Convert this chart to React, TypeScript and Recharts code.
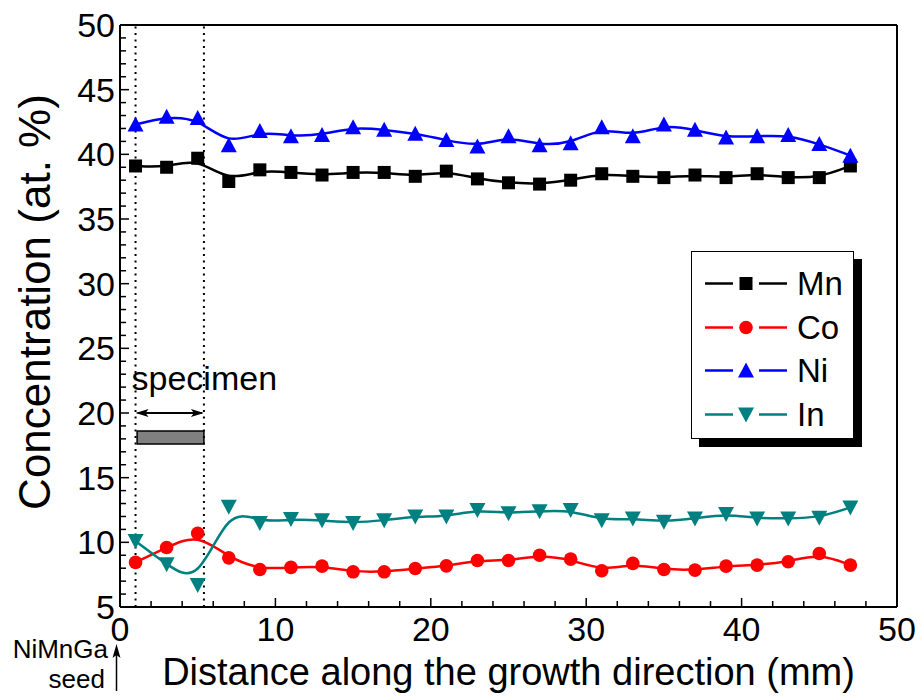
import React from 'react';
import {
  LineChart,
  Line,
  XAxis,
  YAxis,
  Legend,
  Label,
  ReferenceLine,
  ReferenceArea,
} from 'recharts';

// Distance along the growth direction (mm)
const distance = [1, 3, 5, 7, 9, 11, 13, 15, 17, 19, 21, 23, 25, 27, 29, 31, 33, 35, 37, 39, 41, 43, 45, 47];

// Concentrations (at. %)
const mn = [39.1, 39.0, 39.7, 37.9, 38.8, 38.6, 38.4, 38.6, 38.6, 38.3, 38.7, 38.1, 37.8, 37.7, 38.0, 38.5, 38.3, 38.2, 38.4, 38.2, 38.5, 38.2, 38.2, 39.1];
const co = [8.45, 9.6, 10.7, 8.8, 7.9, 8.06, 8.16, 7.72, 7.72, 7.98, 8.18, 8.6, 8.6, 9.0, 8.7, 7.8, 8.37, 7.9, 7.85, 8.16, 8.24, 8.5, 9.14, 8.24];
const ni = [42.3, 42.9, 42.8, 40.7, 41.8, 41.4, 41.5, 42.1, 41.9, 41.6, 41.1, 40.6, 41.4, 40.7, 40.85, 42.1, 41.4, 42.3, 41.9, 41.3, 41.4, 41.5, 40.8, 39.9];
const inn = [10.1, 8.3, 6.7, 12.75, 11.5, 11.8, 11.7, 11.5, 11.7, 12.0, 12.0, 12.5, 12.25, 12.4, 12.5, 11.7, 11.85, 11.6, 11.85, 12.2, 11.85, 11.85, 11.9, 12.7];

const seriesNames = ['Mn', 'Co', 'Ni', 'In'];

// specimen region (mm) and its marker bar (at. %)
const specimenStart = 1;
const specimenEnd = 5.4;
const specimenArrowY = 20;
const specimenBar = { x1: 1.1, x2: 5.4, y1: 17.6, y2: 18.6 };

const COLORS: Record<string, string> = {
  Mn: '#000000',
  Co: '#ff0000',
  Ni: '#0000ff',
  In: '#008080',
};
const SHAPES: Record<string, string> = {
  Mn: 'square',
  Co: 'circle',
  Ni: 'triangle',
  In: 'triangleDown',
};

const FONT = '"Liberation Sans", Arial, Helvetica, sans-serif';

const data = distance.map((d, i) => ({ d, Mn: mn[i], Co: co[i], Ni: ni[i], In: inn[i] }));

// minor ticks every 2 mm / 1 at. %, labels only on the majors
const xTicks: number[] = [];
for (let v = 0; v <= 50; v += 2) xTicks.push(v);
const yTicks: number[] = [];
for (let v = 5; v <= 50; v += 1) yTicks.push(v);

const Marker = ({ shape, cx, cy, color }: { shape: string; cx: number; cy: number; color: string }) => {
  if (shape === 'square') return <rect x={cx - 6.5} y={cy - 6.5} width={13} height={13} fill={color} />;
  if (shape === 'circle') return <circle cx={cx} cy={cy} r={6.8} fill={color} />;
  if (shape === 'triangle')
    return <polygon points={`${cx - 8},${cy + 7} ${cx + 8},${cy + 7} ${cx},${cy - 8}`} fill={color} />;
  return <polygon points={`${cx - 8},${cy - 7} ${cx + 8},${cy - 7} ${cx},${cy + 8}`} fill={color} />;
};

const makeDot = (name: string) => (props: any) => {
  const { cx, cy, index } = props;
  return (
    <g key={`${name}-dot-${index}`}>
      <Marker shape={SHAPES[name]} cx={cx} cy={cy} color={COLORS[name]} />
    </g>
  );
};

const YTick = (props: any) => {
  const { x, y, payload } = props;
  const major = payload.value % 5 === 0;
  return (
    <g>
      <line x1={x} x2={x + (major ? 9 : 6)} y1={y} y2={y} stroke="#000" strokeWidth={1.5} />
      {major && (
        <text x={x - 5} y={y} dy="0.35em" textAnchor="end" fontSize={34} fontFamily={FONT} fill="#000">
          {payload.value}
        </text>
      )}
    </g>
  );
};

const XTick = (props: any) => {
  const { x, y, payload } = props;
  const major = payload.value % 10 === 0;
  return (
    <g>
      <line x1={x} x2={x} y1={y} y2={y - (major ? 9 : 6)} stroke="#000" strokeWidth={1.5} />
      {major && (
        <text x={x} y={y + 34} textAnchor="middle" fontSize={34} fontFamily={FONT} fill="#000">
          {payload.value}
        </text>
      )}
    </g>
  );
};

// double arrow spanning the specimen, with its caption
const SpecimenArrow = (props: any) => {
  const { x1, y1, x2, y2 } = props;
  return (
    <g>
      <line x1={x1 + 2} y1={y1} x2={x2 - 2} y2={y2} stroke="#000" strokeWidth={2} />
      <polygon points={`${x1},${y1} ${x1 + 13},${y1 - 4} ${x1 + 10},${y1} ${x1 + 13},${y1 + 4}`} fill="#000" />
      <polygon points={`${x2},${y2} ${x2 - 13},${y2 - 4} ${x2 - 10},${y2} ${x2 - 13},${y2 + 4}`} fill="#000" />
      <text x={x1 - 4} y={y1 - 23} fontSize={34} fontFamily={FONT} fill="#000">
        specimen
      </text>
    </g>
  );
};

const LegendBox = (props: any) => {
  const { payload } = props;
  const items = seriesNames.map((name) => payload?.find((p: any) => p.value === name) ?? { value: name });
  return (
    <div
      style={{
        width: 163,
        height: 188,
        border: '1px solid #000',
        background: '#fff',
        boxShadow: '8px 8px 0 #000',
        paddingTop: 10,
        boxSizing: 'border-box',
        fontFamily: FONT,
      }}
    >
      {items.map((item: any) => (
        <div key={item.value} style={{ display: 'flex', alignItems: 'center', height: 43.5, paddingLeft: 13 }}>
          <svg width={84} height={43}>
            <line x1={0} x2={28} y1={21.5} y2={21.5} stroke={COLORS[item.value]} strokeWidth={2.5} />
            <line x1={54} x2={82} y1={21.5} y2={21.5} stroke={COLORS[item.value]} strokeWidth={2.5} />
            <Marker shape={SHAPES[item.value]} cx={41} cy={21.5} color={COLORS[item.value]} />
          </svg>
          <span style={{ fontSize: 33, marginLeft: 8, color: '#000', lineHeight: 1 }}>{item.value}</span>
        </div>
      ))}
    </div>
  );
};

const XTitle = (props: any) => {
  const { viewBox } = props;
  return (
    <text x={viewBox.x + viewBox.width / 2} y={viewBox.y + 78} textAnchor="middle" fontSize={38} fontFamily={FONT} fill="#000">
      Distance along the growth direction (mm)
    </text>
  );
};

const YTitle = (props: any) => {
  const { viewBox } = props;
  const x = viewBox.x + viewBox.width - 70;
  const y = viewBox.y + viewBox.height / 2 - 14;
  return (
    <text x={x} y={y} transform={`rotate(-90 ${x} ${y})`} textAnchor="middle" fontSize={44} fontFamily={FONT} fill="#000">
      Concentration (at. %)
    </text>
  );
};

export default function App() {
  return (
    <div style={{ position: 'absolute', left: 0, top: 0, width: 921, height: 700, background: '#fff' }}>
      <LineChart width={921} height={700} data={data} margin={{ top: 25, right: 24, left: 60, bottom: 33 }}>
        <XAxis
          dataKey="d"
          type="number"
          domain={[0, 50]}
          ticks={xTicks}
          interval={0}
          height={60}
          tickSize={0}
          tickMargin={0}
          tick={<XTick />}
          axisLine={{ stroke: '#000', strokeWidth: 2 }}
          allowDataOverflow
        >
          <Label content={<XTitle />} />
        </XAxis>
        <YAxis
          type="number"
          domain={[5, 50]}
          ticks={yTicks}
          interval={0}
          width={60}
          tickSize={0}
          tickMargin={0}
          tick={<YTick />}
          axisLine={{ stroke: '#000', strokeWidth: 2 }}
          allowDataOverflow
        >
          <Label content={<YTitle />} />
        </YAxis>

        {/* frame: top and right edges */}
        <ReferenceLine y={50} stroke="#000" strokeWidth={2} />
        <ReferenceLine x={50} stroke="#000" strokeWidth={2} />

        {/* specimen bounds */}
        <ReferenceLine x={specimenStart} stroke="#000" strokeWidth={2} strokeDasharray="2 4.5" />
        <ReferenceLine x={specimenEnd} stroke="#000" strokeWidth={2} strokeDasharray="2 4.5" />
        <ReferenceLine
          segment={[
            { x: specimenStart, y: specimenArrowY },
            { x: specimenEnd, y: specimenArrowY },
          ]}
          shape={<SpecimenArrow />}
        />
        <ReferenceArea
          x1={specimenBar.x1}
          x2={specimenBar.x2}
          y1={specimenBar.y1}
          y2={specimenBar.y2}
          fill="#808080"
          fillOpacity={1}
          stroke="#000"
          strokeWidth={1.5}
        />

        {seriesNames.map((name) => (
          <Line
            key={name}
            dataKey={name}
            name={name}
            type="basis"
            stroke={COLORS[name]}
            strokeWidth={2.5}
            dot={makeDot(name)}
            activeDot={false}
            isAnimationActive={false}
          />
        ))}

        <Legend
          layout="vertical"
          align="center"
          verticalAlign="middle"
          content={<LegendBox />}
          wrapperStyle={{ left: 691, top: 251, width: 'auto', height: 'auto' }}
        />
      </LineChart>

      {/* seed marker under the origin */}
      <svg width={921} height={700} style={{ position: 'absolute', left: 0, top: 0, pointerEvents: 'none' }}>
        <text x={108} y={658} textAnchor="end" fontSize={26} fontFamily={FONT} fill="#000">
          NiMnGa
        </text>
        <text x={105} y={688} textAnchor="end" fontSize={26} fontFamily={FONT} fill="#000">
          seed
        </text>
        <line x1={116.5} y1={691} x2={116.5} y2={655} stroke="#000" strokeWidth={1.5} />
        <polygon points="116.5,644 112.5,658 116.5,655 120.5,658" fill="#000" />
      </svg>
    </div>
  );
}
